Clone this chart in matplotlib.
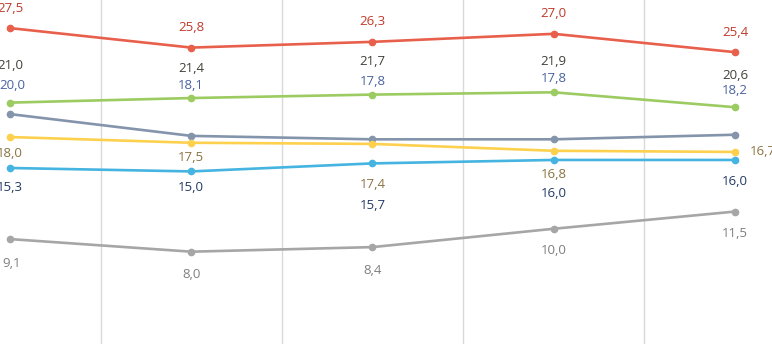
import matplotlib.pyplot as plt

plt.rcParams['font.family'] = ['Open Sans', 'DejaVu Sans']

categories = ['1', '2', '3', '4', '5']
red = [27.5, 25.8, 26.3, 27.0, 25.4]
green = [21.0, 21.4, 21.7, 21.9, 20.6]
slate = [20.0, 18.1, 17.8, 17.8, 18.2]
yellow = [18.0, 17.5, 17.4, 16.8, 16.7]
cyan = [15.3, 15.0, 15.7, 16.0, 16.0]
gray = [9.1, 8.0, 8.4, 10.0, 11.5]

# (values, line colour, label colour, label offsets in px (dx, dy))
series = [
    (red, '#e8604c', '#c0392b', [(0, 20)] * 5),
    (green, '#9ccb62', '#3f4238', [(0, 37), (0, 30), (0, 33), (0, 31), (0, 32)]),
    (slate, '#8394ab', '#4a62a0', [(2, 29), (0, 50), (0, 58), (0, 61), (0, 44)]),
    (yellow, '#fdd04e', '#8a7342', [(0, -16), (0, -15), (0, -41), (0, -24), (28, 0)]),
    (cyan, '#45b4e0', '#233a66', [(0, -20), (0, -16), (0, -42), (0, -34), (0, -22)]),
    (gray, '#a6a6a6', '#7f7f7f', [(2, -24), (0, -23), (0, -23), (0, -22), (0, -22)]),
]

fig = plt.figure(figsize=(7.72, 3.44), dpi=100)
ax = fig.add_axes([0, 0, 1, 1])
x = list(range(len(categories)))

for vals, col, lcol, offs in series:
    ax.plot(x, vals, color=col, linewidth=1.9, marker='o', markersize=4.5, zorder=3)
    for xi, v, (dx, dy) in zip(x, vals, offs):
        ax.annotate(f'{v:.1f}'.replace('.', ','), (xi, v), xytext=(dx, dy),
                    textcoords='offset pixels', ha='center', va='center',
                    color=lcol, fontsize=9.5)

for b in [0.5, 1.5, 2.5, 3.5]:
    ax.axvline(b, color='#d9d9d9', linewidth=1.0, zorder=1)

ax.set_xlim(-0.055, 4.204)
ax.set_ylim(-0.05, 29.95)
ax.axis('off')

fig.savefig('out.png', dpi=100)
